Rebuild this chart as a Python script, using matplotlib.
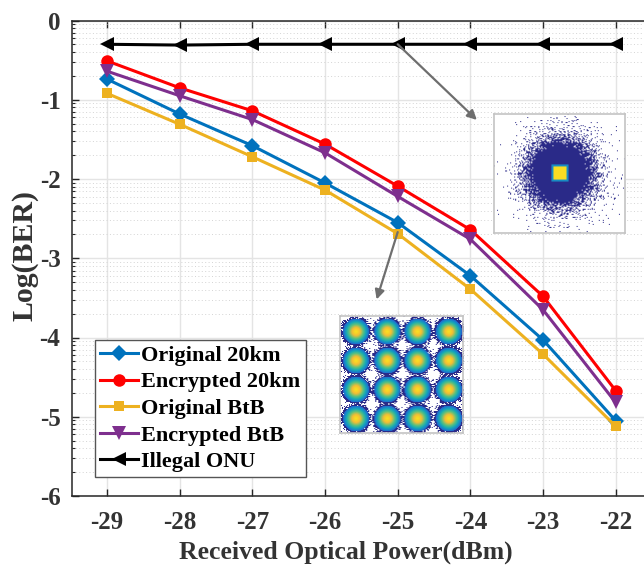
import numpy as np
import matplotlib
matplotlib.use("Agg")
import matplotlib.pyplot as plt
from matplotlib.colors import LinearSegmentedColormap
from matplotlib.ticker import FixedLocator

power = [-29, -28, -27, -26, -25, -24, -23, -22]
orig_20km = [-0.74, -1.18, -1.58, -2.05, -2.55, -3.22, -4.03, -5.05]
enc_20km = [-0.51, -0.85, -1.14, -1.56, -2.09, -2.64, -3.48, -4.67]
orig_btb = [-0.92, -1.31, -1.72, -2.14, -2.69, -3.39, -4.21, -5.12]
enc_btb = [-0.64, -0.95, -1.25, -1.67, -2.22, -2.76, -3.65, -4.82]
illegal = [-0.30, -0.31, -0.30, -0.30, -0.30, -0.30, -0.30, -0.30]
y_ticks = [0, -1, -2, -3, -4, -5, -6]

W, H = 644, 565
plt.rcParams['font.family'] = ['Liberation Serif', 'DejaVu Serif']
plt.rcParams['font.weight'] = 'bold'
fig = plt.figure(figsize=(W / 100, H / 100), dpi=100)

def px_axes(x0, y0, x1, y1, **kw):
    return fig.add_axes([x0 / W, 1 - y1 / H, (x1 - x0) / W, (y1 - y0) / H], **kw)

ax = px_axes(71.5, 20.5, 644, 496)
ax.set_xlim(-29.49, -21.61)
ax.set_ylim(-6, 0)

series = [
    (orig_20km, '#0072BD', 'D', 'Original 20km', 8),
    (enc_20km, '#FF0000', 'o', 'Encrypted 20km', 9),
    (orig_btb, '#EDB120', 's', 'Original BtB', 7.5),
    (enc_btb, '#7E2F8E', 'v', 'Encrypted BtB', 10.5),
    (illegal, '#000000', '<', 'Illegal ONU', 10.5),
]
for vals, col, mk, lab, ms in series:
    ax.plot(power, vals, color=col, marker=mk, ms=ms, mew=0, lw=2.2, label=lab, zorder=3, clip_on=False)

minor = [k + np.log10(n) - 1 for k in range(0, -6, -1) for n in range(2, 10)]
ax.yaxis.set_minor_locator(FixedLocator(minor))
ax.set_xticks(power)
ax.set_xticklabels([str(p) for p in power])
ax.set_yticks(y_ticks)
ax.set_yticklabels([str(t) for t in y_ticks])
ax.grid(True, which='major', color='#e4e4e4', lw=1.0, zorder=0)
ax.grid(True, which='minor', axis='y', color='#d4d4d4', lw=0.7, ls=(0, (1, 2.5)), zorder=0)
ax.set_axisbelow(True)
ax.tick_params(axis='both', which='major', direction='in', length=5, width=1.0, color='#262626',
               labelsize=18, labelcolor='#333333', top=True)
ax.tick_params(axis='x', which='major', pad=11)
ax.tick_params(axis='y', which='major', pad=8)
ax.tick_params(axis='y', which='minor', direction='in', length=2.5, width=0.8, color='#262626')
ax.spines['right'].set_visible(False)
for s in ax.spines.values():
    s.set_color('#262626')
    s.set_linewidth(1.1)
ax.set_xlabel('Received Optical Power(dBm)', fontsize=18.5, fontweight='bold', color='#333333', labelpad=4.5, x=0.48)
ax.set_ylabel('Log(BER)', fontsize=21.5, fontweight='bold', color='#333333', labelpad=1, y=0.505)

leg = ax.legend(loc='lower left', bbox_to_anchor=((95 - 71.5) / 572.5, (496 - 477) / 475.5),
                frameon=True, fancybox=False, edgecolor='#555555', framealpha=1, borderaxespad=0,
                handlelength=1.72, handletextpad=0.15, labelspacing=0.27, borderpad=0.22,
                prop={'family': 'Liberation Serif', 'weight': 'bold', 'size': 16})
leg.set_zorder(5)
leg.get_frame().set_linewidth(1.0)

arrow = dict(arrowstyle='-|>', color='#6e6e6e', lw=1.6, mutation_scale=14, shrinkA=0, shrinkB=0)
ax.annotate('', xy=(-23.91, -1.255), xytext=(-25, -0.30), arrowprops=arrow, zorder=4)
ax.annotate('', xy=(-25.29, -3.52), xytext=(-25, -2.67), arrowprops=arrow, zorder=4)

# The two insets are raster constellation pictures: a density picture stands in for each.
parula = LinearSegmentedColormap.from_list(
    'p', [(0, '#ffffff'), (0.08, '#6a62b8'), (0.25, '#2b2a88'), (0.42, '#1d6fd0'), (0.58, '#14a8b8'),
          (0.72, '#58c080'), (0.87, '#f2bd35'), (1, '#fbe51e')])

def speckle(x, y):
    # fixed texture hash for the scatter look of the picture insets
    v = np.sin(12.9898 * x + 78.233 * y) * 43758.5453
    return v - np.floor(v)

def inset(box, dens):
    a = px_axes(*box)
    nx, ny = int(box[2] - box[0]), int(box[3] - box[1])
    yy, xx = np.mgrid[0:ny, 0:nx]
    img = dens(xx.astype(float), yy.astype(float), speckle(xx, yy))
    a.imshow(img, cmap=parula, vmin=0, vmax=1, interpolation='bilinear', aspect='auto', zorder=1)
    a.set_xticks([]); a.set_yticks([])
    for s in a.spines.values():
        s.set_color('#c4c4c4'); s.set_linewidth(1.2)
    a.set_zorder(6)

def cloud(x, y, d):
    r = np.hypot(x - 65, y - 59)
    dens = np.where(r < 24, 1.0, 0.8 * np.exp(-((r - 24) / 14.0) ** 2) + 0.2 * np.exp(-((r - 24) / 24.0) ** 2))
    out = np.where(d < dens, 0.25, 0.0)
    sq = np.maximum(abs(x - 65), abs(y - 59))
    out = np.where(sq < 7.0, 0.97, np.where(sq < 9.0, 0.5, out))
    return out

cx = [15.5, 46.5, 76.5, 107.5]
cy = [15, 44, 73, 102]

def blobs(x, y, d):
    out = np.zeros_like(x, dtype=float)
    for a in cx:
        for b in cy:
            r = np.hypot(x - a, y - b)
            core = np.where(r < 13, np.clip(0.98 - (r / 13) ** 1.4 * 0.6, 0.38, 1), 0)
            halo = np.where((r >= 13) & (d < np.exp(-((r - 13) / 2.6) ** 2) * 0.9 + 0.02), 0.25, 0)
            out = np.maximum(out, np.maximum(core, halo))
    return out

inset((494, 114, 625, 233), cloud)
inset((340, 316, 463, 433), blobs)

fig.savefig('out.png', dpi=100)
